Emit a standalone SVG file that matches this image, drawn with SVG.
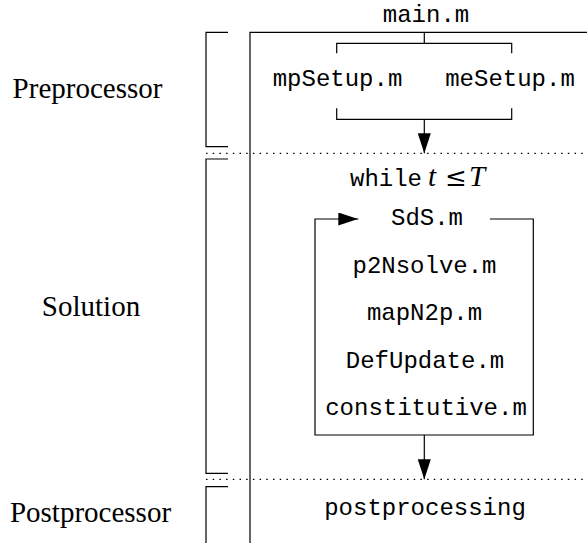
<svg xmlns="http://www.w3.org/2000/svg" width="587" height="543" viewBox="0 0 587 543">
  <style>
    .tt { font-family: "Liberation Mono", "Courier New", monospace; font-size: 24px; fill: #000; text-anchor: middle; }
    .rm { font-family: "Liberation Serif", "Times New Roman", serif; font-size: 29px; fill: #000; text-anchor: middle; }
    .mi { font-family: "Liberation Serif", "Times New Roman", serif; font-size: 29px; font-style: italic; fill: #000; }
    .op { font-family: "DejaVu Serif", "Liberation Serif", serif; font-size: 26px; fill: #000; }
    .ln { fill: none; stroke: #000; stroke-width: 1.2; }
    .dot { fill: none; stroke: #000; stroke-width: 1.2; stroke-dasharray: 1.5 5.2; }
  </style>
  <defs>
    <marker id="head" viewBox="0 0 20 13" refX="20" refY="6.5" markerWidth="20" markerHeight="13" markerUnits="userSpaceOnUse" orient="auto">
      <path d="M0,0 L20,6.5 L0,13 Z" fill="#000"/>
    </marker>
  </defs>
  <rect width="587" height="543" fill="#fff"/>

  <!-- stage brackets and labels -->
  <g id="stage-pre">
    <path class="ln" d="M228,32.3 H206 V146.7 H228"/>
    <text class="rm" x="87.5" y="98">Preprocessor</text>
  </g>
  <g id="stage-solution">
    <path class="ln" d="M228,159 H206 V473.3 H228"/>
    <text class="rm" x="91" y="316">Solution</text>
  </g>
  <g id="stage-post">
    <path class="ln" d="M228,486.7 H206 V543"/>
    <text class="rm" x="90.5" y="522">Postprocessor</text>
  </g>

  <!-- stage separators -->
  <g id="separators">
    <path class="dot" d="M206,153.3 H587"/>
    <path class="dot" d="M206,479.3 H587"/>
  </g>

  <!-- program frame -->
  <g id="frame">
    <path class="ln" d="M250,543 V32.3 H587"/>
  </g>

  <g id="main">
    <text class="tt" x="426" y="22">main.m</text>
  </g>
  <g id="mpSetup">
    <text class="tt" x="337.5" y="86">mpSetup.m</text>
  </g>
  <g id="meSetup">
    <text class="tt" x="510" y="86">meSetup.m</text>
  </g>
  <g id="while">
    <text class="tt" x="386" y="186">while</text>
    <text class="mi" x="428" y="186">t</text>
    <text class="op" x="445" y="186">≤</text>
    <text class="mi" x="469" y="186">T</text>
  </g>
  <g id="SdS">
    <text class="tt" x="427" y="225">SdS.m</text>
  </g>
  <g id="p2Nsolve">
    <text class="tt" x="424.5" y="273">p2Nsolve.m</text>
  </g>
  <g id="mapN2p">
    <text class="tt" x="424.5" y="320">mapN2p.m</text>
  </g>
  <g id="DefUpdate">
    <text class="tt" x="425" y="368">DefUpdate.m</text>
  </g>
  <g id="constitutive">
    <text class="tt" x="426" y="415">constitutive.m</text>
  </g>
  <g id="postprocessing">
    <text class="tt" x="425" y="515">postprocessing</text>
  </g>

  <!-- connectors -->
  <g id="connectors">
    <path class="ln" d="M424.3,32.3 V43.3"/>
    <path class="ln" d="M336.7,53.3 V43.3 H511.7 V53.3"/>
    <path class="ln" d="M336.7,108.3 V119.3 H511.7 V108.3"/>
    <path class="ln" d="M424.3,119.3 V153.3" marker-end="url(#head)"/>
    <path class="ln" d="M490,219 H533.3 V435 H315 V219 H358.3" marker-end="url(#head)"/>
    <path class="ln" d="M424.3,435 V479.3" marker-end="url(#head)"/>
  </g>
</svg>
